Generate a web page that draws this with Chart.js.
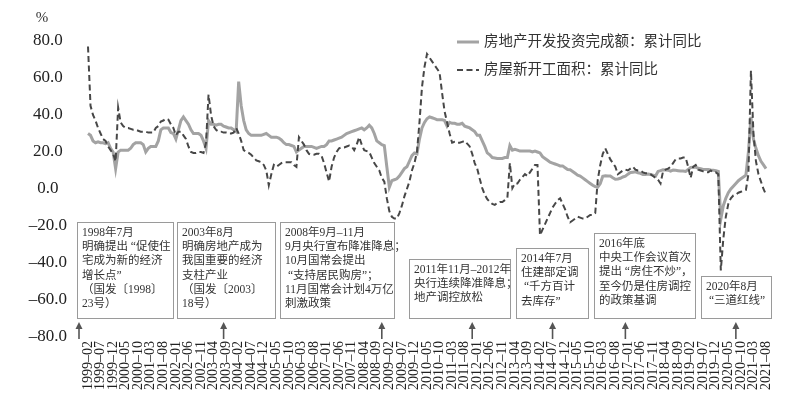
<!DOCTYPE html>
<html>
<head>
<meta charset="utf-8">
<script src="https://cdn.jsdelivr.net/npm/chart.js"></script>
<style>
  html, body { margin: 0; padding: 0; background: #fff; }
  #wrap { width: 800px; height: 405px; }
</style>
</head>
<body>
<div id="wrap"><canvas id="myChart"></canvas></div>
<script>
// month labels 1999-02 ... 2021-08
const months = [];
for (let y = 1999; y <= 2021; y++) {
  for (let m = 1; m <= 12; m++) {
    if (y === 1999 && m < 2) continue;
    if (y === 2021 && m > 8) break;
    months.push(y + '-' + String(m).padStart(2, '0'));
  }
}

// 房地产开发投资完成额：累计同比 (%)
const invest = [
  30, 29, 26, 25, 25.5, 25, 25, 24.5, 25, 22, 20,                 // 1999
  11, 20, 21, 21, 21, 21, 22, 24, 25, 25, 25, 24,                 // 2000
  20, 22, 23, 23, 23, 26, 32, 33, 33, 33, 30.5, 30,               // 2001
  27, 32, 37, 39, 37, 35, 32, 30, 30, 30, 29, 26,                 // 2002
  22, 37, 35, 35, 34.5, 35, 35, 34, 33.5, 33, 33, 32,             // 2003
  31, 58, 45, 37, 32, 30, 29, 29, 29, 29, 29, 29.5,               // 2004
  30, 29, 28, 28, 28, 27.5, 26.5, 25, 24, 24, 23.5, 23,           // 2005
  20, 21, 22, 23, 23, 23, 23, 22.5, 22, 22.5, 23, 23,             // 2006
  24, 26, 26, 26.5, 27, 27.5, 28, 29, 30, 30.5, 31, 31.5,         // 2007
  32, 32.5, 33, 32, 33, 34.5, 33, 30, 26, 25, 24, 23.5,           // 2008
  12, 1, 4.5, 5, 5.5, 7, 9, 11, 12, 15, 18, 19.5,                 // 2009
  19, 27, 33, 36, 38, 39, 38.5, 38, 37.5, 37.5, 37.5, 37,         // 2010
  34, 36, 35.5, 35.5, 35, 35, 35.5, 34, 33.5, 33, 32, 31,         // 2011
  29, 29, 26, 23, 19.5, 18.5, 17, 16.8, 16.5, 16.5, 16.5, 17,     // 2012
  17, 23.5, 21, 21.5, 21, 20.5, 20.5, 20.5, 20.5, 20.5, 20, 20.5, // 2013
  20, 19.5, 17.5, 16.5, 15.5, 14.5, 14, 13.5, 13, 12.5, 12.5, 11.5, // 2014
  10.5, 10.4, 9.5, 8.5, 7.5, 7, 6, 5, 4, 3, 2, 1.3,               // 2015
  1, 3, 6.9, 7.2, 7, 7, 6.1, 5.3, 5.4, 5.8, 6.5, 6.9,             // 2016
  8, 8.9, 9.1, 9.3, 8.8, 8.5, 7.9, 7.9, 8.1, 7.8, 7.5, 7.0,       // 2017
  9.5, 9.9, 10.4, 10.3, 10.2, 9.7, 10.2, 10.1, 9.9, 9.7, 9.7, 9.5, // 2018
  10.5, 11.6, 11.8, 11.9, 11.2, 10.9, 10.6, 10.5, 10.5, 10.3, 10.2, 9.9, // 2019
  9.5, -16.3, -9, -5, -2, 0, 1.5, 3, 4.5, 5.5, 6.5, 7.5,          // 2020
  20, 39, 27, 22, 18, 15, 13, 11                                  // 2021
];

// 房屋新开工面积：累计同比 (%)
const starts = [
  77, 45, 40, 37, 33, 30, 27, 26, 23, 21, 19,                     // 1999
  15, 44, 36, 34, 33, 33, 32.5, 32, 32, 31.5, 31, 31,             // 2000
  31, 30.5, 30.5, 30.5, 33, 34, 36.5, 37, 38, 37.5, 35, 33,       // 2001
  29, 31, 31, 29, 27, 23, 20, 19.5, 19.5, 20, 20, 19.5,           // 2002
  25, 51, 40, 34, 32, 31, 31, 30.5, 30.5, 30, 30, 30.5,           // 2003
  33, 30, 26, 21, 20, 19.5, 18.5, 17, 15.5, 15, 14.5, 13,         // 2004
  10, 2, 8, 13, 12, 13, 14, 14.5, 14.5, 14.5, 14.5, 13,           // 2005
  12, 28, 26, 24, 21, 19, 18.5, 18.5, 19, 19, 18, 14,             // 2006
  9, 4, 12, 17, 20, 22, 22.5, 22.5, 23, 23.5, 23, 21,             // 2007
  24, 28, 24, 21, 20.5, 20, 17, 14, 12, 10, 6, 4,                 // 2008
  -5, -12, -15, -16, -16, -13, -9, -4, 0, 4, 10, 14,              // 2009
  20, 36, 55, 66, 73, 71, 69, 67, 65, 63, 52, 42,                 // 2010
  36, 30, 25, 25.5, 25, 25, 25.5, 26, 24.5, 23, 19, 14,           // 2011
  11, 5.5, 0.5, -3, -5.5, -7, -8, -8.6, -7.5, -7, -7, -6,         // 2012
  -5, 14, 0.5, 3, 3, 5, 6.5, 8, 7, 9, 11, 13,                     // 2013
  13, -25, -22, -19, -16, -13, -10, -8, -6, -5, -8, -11,          // 2014
  -15, -18, -17, -16, -15, -15.5, -16, -16, -15, -14, -14, -13,   // 2015
  5, 13, 19, 22, 19, 16, 14, 12, 8, 9, 10, 10.5,                  // 2016
  10, 11, 12, 10.5, 10, 10, 9, 8.5, 8.5, 8, 7, 6,                 // 2017
  5, 3, 9.5, 10.5, 11, 12, 14, 16, 16.5, 16.5, 17, 17,            // 2018
  12, 6, 12, 13, 10.5, 10, 9.5, 9, 9, 10, 9, 9,                   // 2019
  8, -44, -27, -15, -8, -5, -3.5, -3, -2, -1.5, -1, -0.5,         // 2020
  8, 64, 30, 15, 8, 4, 0, -3                                      // 2021
];

const yTicks = [80, 60, 40, 20, 0, -20, -40, -60, -80];

const seriesNames = ['房地产开发投资完成额：累计同比', '房屋新开工面积：累计同比'];

// policy notes under the chart
const notes = [
  { month: '1998-07', box: [77, 222, 96, 96], lines: ['1998年7月', '明确提出 “促使住', '宅成为新的经济', '增长点”', '（国发〔1998〕', '23号）'] },
  { month: '2003-08', box: [177, 222, 98, 96], lines: ['2003年8月', '明确房地产成为', '我国重要的经济', '支柱产业', '（国发〔2003〕', '18号）'] },
  { month: '2008-11', box: [280, 222, 114, 96], lines: ['2008年9月–11月', '9月央行宣布降准降息；', '10月国常会提出', ' “支持居民购房”；', '11月国常会计划4万亿', '刺激政策'] },
  { month: '2011-11', box: [409, 259, 101, 59], lines: ['2011年11月–2012年', '央行连续降准降息；', '地产调控放松'] },
  { month: '2014-07', box: [516, 248, 72, 70], lines: ['2014年7月', '住建部定调', ' “千方百计', '去库存”'] },
  { month: '2016-12', box: [594, 233, 101, 85], lines: ['2016年底', '中央工作会议首次', '提出 “房住不炒”，', '至今仍是住房调控', '的政策基调'] },
  { month: '2020-08', box: [701, 276, 70, 42], lines: ['2020年8月', ' “三道红线”'] }
];

const FONT = '"Liberation Serif", "Noto Sans CJK SC", serif';

const overlay = {
  id: 'overlay',
  afterDraw(chart) {
    const c = chart.ctx;
    const xs = chart.scales.x;
    c.save();

    // unit
    c.fillStyle = '#333';
    c.font = '15px ' + FONT;
    c.textAlign = 'center';
    c.textBaseline = 'middle';
    c.fillText('%', 42, 18);

    // legend
    c.textAlign = 'left';
    c.font = '14.5px ' + FONT;
    c.lineWidth = 3;
    c.strokeStyle = '#a3a3a3';
    c.beginPath(); c.moveTo(457, 42); c.lineTo(479, 42); c.stroke();
    c.fillStyle = '#333';
    c.fillText(seriesNames[0], 484, 42);
    c.lineWidth = 2;
    c.strokeStyle = '#474747';
    c.setLineDash([6, 3.5]);
    c.beginPath(); c.moveTo(457, 70); c.lineTo(479, 70); c.stroke();
    c.setLineDash([]);
    c.fillText(seriesNames[1], 484, 70);

    // boxes
    c.font = '11.5px ' + FONT;
    c.textBaseline = 'middle';
    notes.forEach(n => {
      const [bx, by, bw, bh] = n.box;
      c.fillStyle = '#fff';
      c.fillRect(bx, by, bw, bh);
      c.strokeStyle = '#9a9a9a';
      c.lineWidth = 1;
      c.strokeRect(bx + 0.5, by + 0.5, bw, bh);
      c.fillStyle = '#333';
      n.lines.forEach((t, k) => c.fillText(t, bx + 5, by + 11 + k * 14.2));

      // arrow
      const parts = n.month.split('-');
      const idx = (+parts[0] - 1999) * 12 + (+parts[1] - 2);
      const ax = Math.max(79, xs.getPixelForValue(idx));
      c.strokeStyle = '#555';
      c.fillStyle = '#555';
      c.lineWidth = 1.6;
      c.beginPath(); c.moveTo(ax, 339); c.lineTo(ax, 328); c.stroke();
      c.beginPath();
      c.moveTo(ax - 3.5, 329); c.lineTo(ax, 322); c.lineTo(ax + 3.5, 329);
      c.closePath(); c.fill();
    });
    c.restore();
  }
};

new Chart(document.getElementById('myChart'), {
  type: 'line',
  data: {
    labels: months,
    datasets: [
      {
        label: seriesNames[1],
        data: starts,
        borderColor: '#474747',
        borderWidth: 2,
        borderDash: [6, 3.5],
        pointRadius: 0,
        tension: 0,
        order: 1
      },
      {
        label: seriesNames[0],
        data: invest,
        borderColor: '#a3a3a3',
        borderWidth: 3,
        pointRadius: 0,
        tension: 0,
        order: 2
      }
    ]
  },
  options: {
    responsive: true,
    maintainAspectRatio: false,
    animation: false,
    layout: { padding: { top: 41, right: 34, left: 0, bottom: 0 } },
    plugins: {
      legend: { display: false },
      tooltip: { enabled: false }
    },
    scales: {
      x: {
        grid: { display: false, drawTicks: false },
        border: { display: false },
        ticks: {
          autoSkip: false,
          minRotation: 90,
          maxRotation: 90,
          padding: 4,
          color: '#222',
          font: { family: FONT, size: 14 },
          callback: (v, i) => i % 5 === 0 ? months[i].replace('-', '–') : null
        },
        afterFit: s => { s.height = 68; }
      },
      y: {
        min: -80,
        max: 80,
        grid: { display: false, drawTicks: false },
        border: { display: false },
        afterBuildTicks: s => { s.ticks = yTicks.map(v => ({ value: v })); },
        ticks: {
          crossAlign: 'center',
          padding: 21,
          color: '#222',
          font: { family: FONT, size: 17 },
          callback: v => (v < 0 ? '–' : '') + Math.abs(v).toFixed(1)
        },
        afterFit: s => { s.width = 88; }
      }
    }
  },
  plugins: [overlay]
});
</script>
</body>
</html>
